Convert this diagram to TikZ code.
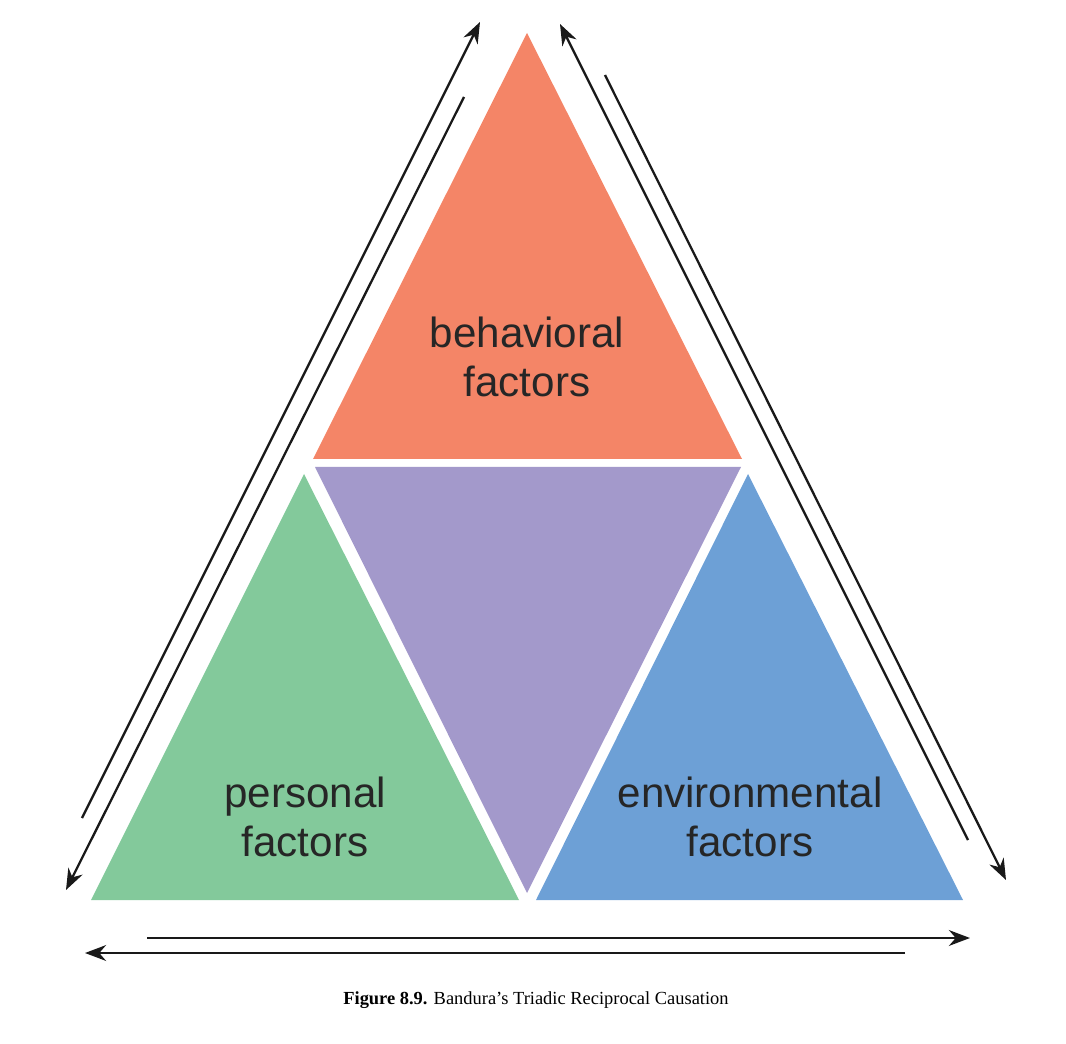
\documentclass[tikz,border=0pt]{standalone}
\usepackage{fontspec}
\setmainfont{Liberation Serif}
\newfontfamily\labelfont{Liberation Sans}
\usetikzlibrary{arrows.meta}
\definecolor{behavcol}{HTML}{F48567}
\definecolor{middlecol}{HTML}{A399CB}
\definecolor{personcol}{HTML}{83C99B}
\definecolor{envcol}{HTML}{6DA0D6}
\begin{document}
\begin{tikzpicture}
[x=0.02cm,y=-0.02cm,>={Stealth[length=12pt,width=9pt]},
 arrowline/.style={draw=black!90,line width=1.3pt,->},
 factor/.style={font=\labelfont\fontsize{24}{28}\selectfont,text=black!85,align=center},]

\useasboundingbox (0,0) rectangle (1066,1044);

%triangles
\fill[behavcol] (527,33) -- (742,459) -- (313,459) -- cycle;
\fill[middlecol] (315,467) -- (741,467) -- (527,893) -- cycle;
\fill[personcol] (304,474) -- (519,900) -- (91,900) -- cycle;
\fill[envcol] (748,474) -- (963,900) -- (536,900) -- cycle;

%labels
\node[factor] (B) at (527,357) {behavioral\\factors};
\node[factor] (P) at (305,817) {personal\\factors};
\node[factor] (E) at (750,817) {environmental\\factors};

%arrow ends
\coordinate (L1s) at (82,818);  \coordinate (L1e) at (480,22);
\coordinate (L2s) at (464,97);  \coordinate (L2e) at (66,890);
\coordinate (R1s) at (968,840); \coordinate (R1e) at (560,24);
\coordinate (R2s) at (605,75);  \coordinate (R2e) at (1006,880);
\coordinate (D1s) at (147,938); \coordinate (D1e) at (970,938);
\coordinate (D2s) at (905,953); \coordinate (D2e) at (85,953);

%arrows
\foreach \s/\e in {L1s/L1e,L2s/L2e,R1s/R1e,R2s/R2e,D1s/D1e,D2s/D2e}
  \draw[arrowline] (\s) -- (\e);

%caption
\node (cap) at (536,1000) {\fontsize{10.5}{12}\selectfont\textbf{Figure 8.9.} Bandura’s Triadic Reciprocal Causation};
\end{tikzpicture}
\end{document}
